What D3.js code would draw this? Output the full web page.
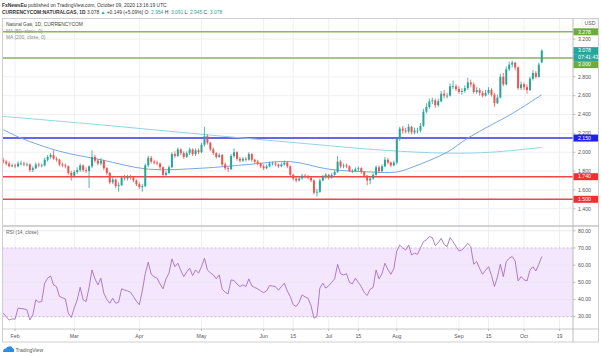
<!DOCTYPE html>
<html><head><meta charset="utf-8">
<script src="https://cdn.jsdelivr.net/npm/d3@7"></script>
<style>
html,body{margin:0;padding:0;background:#fff;}
svg{display:block;font-family:"Liberation Sans",Arial,sans-serif;}
</style></head>
<body><svg id="c" width="601" height="356"></svg>
<script>
// ---------------- DATA ----------------
const firstDay = "2020-01-28", axisEndDay = "2020-10-31";
const closedDays = ["2020-04-10"];
const opens = [
1.92,1.90,1.88,1.85,1.86,1.85,1.88,1.88,1.87,1.87,
1.81,1.83,1.87,1.86,1.86,1.92,1.95,1.97,1.93,1.92,
1.87,1.86,1.85,1.78,1.75,1.79,1.81,1.86,1.81,1.80,
1.85,1.95,1.91,1.88,1.91,1.83,1.78,1.68,1.71,1.64,
1.65,1.73,1.72,1.74,1.73,1.70,1.66,1.63,1.64,1.86,
1.94,1.90,1.89,1.88,1.84,1.76,1.78,1.84,1.98,1.96,
2.03,1.99,1.95,1.99,2.03,1.98,2.02,2.00,2.08,2.17,
2.10,2.03,1.99,1.95,1.97,1.87,1.83,1.82,1.96,2.00,
1.93,1.91,1.93,1.92,1.98,1.92,1.90,1.88,1.85,1.83,
1.85,1.88,1.88,1.87,1.85,1.87,1.89,1.85,1.76,1.72,
1.70,1.72,1.75,1.74,1.73,1.70,1.57,1.58,1.70,1.74,
1.76,1.73,1.76,1.79,1.90,1.85,1.86,1.85,1.80,1.80,
1.82,1.83,1.79,1.75,1.70,1.72,1.76,1.84,1.80,1.85,
1.92,1.89,1.86,1.89,2.14,2.25,2.23,2.22,2.27,2.21,
2.23,2.23,2.28,2.43,2.48,2.54,2.55,2.50,2.54,2.62,
2.60,2.60,2.70,2.70,2.67,2.64,2.65,2.68,2.74,2.72,
2.64,2.66,2.63,2.60,2.63,2.66,2.61,2.52,2.58,2.80,
2.72,2.88,2.93,2.95,2.90,2.68,2.72,2.69,2.66,2.78,
2.84,2.80,2.954];
const highs = [
1.94,1.92,1.90,1.88,1.88,1.90,1.91,1.90,1.89,1.88,
1.85,1.89,1.89,1.88,1.94,1.97,1.99,2.02,1.95,1.93,
1.89,1.88,1.86,1.80,1.81,1.84,1.88,1.87,1.84,1.86,
2.02,1.97,1.93,1.94,1.92,1.84,1.79,1.74,1.72,1.68,
1.75,1.76,1.76,1.76,1.74,1.71,1.68,1.66,1.88,1.96,
1.96,1.92,1.91,1.89,1.85,1.80,1.86,2.00,2.01,2.05,
2.04,2.01,2.01,2.05,2.04,2.04,2.04,2.10,2.27,2.19,
2.11,2.05,2.00,1.99,1.98,1.89,1.85,1.98,2.04,2.01,
1.95,1.95,1.95,2.00,1.99,1.93,1.92,1.89,1.87,1.87,
1.90,1.90,1.90,1.88,1.89,1.91,1.90,1.86,1.77,1.74,
1.74,1.77,1.77,1.76,1.74,1.71,1.61,1.72,1.76,1.78,
1.77,1.78,1.81,1.96,1.92,1.88,1.88,1.86,1.82,1.84,
1.85,1.84,1.80,1.76,1.74,1.78,1.86,1.86,1.87,1.95,
1.94,1.90,1.91,2.16,2.27,2.28,2.26,2.30,2.28,2.26,
2.26,2.31,2.46,2.52,2.57,2.58,2.57,2.57,2.65,2.66,
2.63,2.73,2.76,2.72,2.70,2.68,2.71,2.79,2.77,2.74,
2.69,2.68,2.65,2.66,2.69,2.68,2.63,2.61,2.83,2.84,
2.91,2.96,2.97,2.96,2.91,2.75,2.74,2.72,2.80,2.87,
2.86,2.95,3.091];
const lows = [
1.88,1.86,1.84,1.84,1.83,1.84,1.86,1.85,1.85,1.79,
1.79,1.82,1.84,1.84,1.85,1.90,1.93,1.92,1.90,1.85,
1.84,1.83,1.76,1.70,1.73,1.77,1.79,1.79,1.78,1.62,
1.83,1.89,1.86,1.86,1.81,1.76,1.66,1.66,1.62,1.58,
1.64,1.70,1.70,1.71,1.68,1.64,1.61,1.58,1.63,1.84,
1.88,1.87,1.86,1.82,1.73,1.74,1.77,1.83,1.94,1.95,
1.97,1.93,1.94,1.97,1.96,1.96,1.98,1.99,2.06,2.08,
2.01,1.97,1.93,1.94,1.85,1.81,1.79,1.81,1.94,1.91,
1.89,1.90,1.90,1.91,1.90,1.88,1.86,1.83,1.81,1.82,
1.84,1.86,1.85,1.83,1.84,1.86,1.83,1.74,1.70,1.68,
1.69,1.71,1.72,1.71,1.68,1.55,1.53,1.57,1.69,1.72,
1.71,1.72,1.75,1.78,1.83,1.83,1.83,1.79,1.78,1.79,
1.80,1.77,1.73,1.65,1.66,1.71,1.75,1.78,1.79,1.84,
1.87,1.84,1.85,1.87,2.12,2.20,2.20,2.20,2.19,2.19,
2.20,2.21,2.27,2.41,2.46,2.51,2.47,2.48,2.53,2.57,
2.57,2.59,2.67,2.65,2.62,2.61,2.63,2.66,2.69,2.62,
2.62,2.60,2.58,2.59,2.61,2.59,2.48,2.51,2.57,2.70,
2.71,2.86,2.90,2.87,2.66,2.66,2.66,2.62,2.65,2.76,
2.78,2.79,2.945];
const closes = [
1.90,1.88,1.85,1.86,1.85,1.88,1.88,1.87,1.87,1.81,
1.83,1.87,1.86,1.86,1.92,1.95,1.97,1.93,1.92,1.87,
1.86,1.85,1.78,1.75,1.79,1.81,1.86,1.81,1.80,1.85,
1.95,1.91,1.88,1.91,1.83,1.78,1.68,1.71,1.64,1.65,
1.73,1.72,1.74,1.73,1.70,1.66,1.63,1.64,1.86,1.94,
1.90,1.89,1.88,1.84,1.76,1.78,1.84,1.98,1.96,2.03,
1.99,1.95,1.99,2.03,1.98,2.02,2.00,2.08,2.17,2.10,
2.03,1.99,1.95,1.97,1.87,1.83,1.82,1.96,2.00,1.93,
1.91,1.93,1.92,1.98,1.92,1.90,1.88,1.85,1.83,1.85,
1.88,1.88,1.87,1.85,1.87,1.89,1.85,1.76,1.72,1.70,
1.72,1.75,1.74,1.73,1.70,1.57,1.58,1.70,1.74,1.76,
1.73,1.76,1.79,1.90,1.85,1.86,1.85,1.80,1.80,1.82,
1.83,1.79,1.75,1.70,1.72,1.76,1.84,1.80,1.85,1.92,
1.89,1.86,1.89,2.14,2.25,2.23,2.22,2.27,2.21,2.23,
2.23,2.28,2.43,2.48,2.54,2.55,2.50,2.54,2.62,2.60,
2.60,2.70,2.70,2.67,2.64,2.65,2.68,2.74,2.72,2.64,
2.66,2.63,2.60,2.63,2.66,2.61,2.52,2.58,2.80,2.72,
2.88,2.93,2.95,2.90,2.68,2.72,2.69,2.66,2.78,2.84,
2.80,2.929,3.078];
const rsiValues = [
32,30,28,28.7,28.5,34.9,34.7,34.5,34,28.1,
31,39.8,38.4,38.8,49.5,52.4,53.7,48.5,47.5,41.7,
41,40.3,32,29.5,35,39.8,47.1,39.8,38.8,47,
57.2,52,48.5,52.4,43.6,40,37.8,40.7,37.8,38.4,
46.2,45.5,45,44.2,41.7,39,36.9,45,55,61.7,
54.7,53.3,52.4,49,46.2,52,55.3,63.6,59.1,61.1,
57,53.3,56,58.2,53.9,57.2,55.3,59.1,64,57.2,
55.5,54.3,52,54.3,46,44.2,43.3,51.4,51,49,
47.5,48.5,47.5,52,47.9,47,46.2,45,44,45,
48.1,47.8,47.5,45.4,47.5,49.5,45,41.7,37,35.9,
38.4,42.7,41.5,40.7,36.5,29.1,30.1,46.6,49.5,46.6,
48,50,52,60.5,55,54.3,55,50,49.1,52.4,
50,47.5,44,42.3,46,47,57.2,52,55,61.1,
57.5,54.7,58,68.3,71.7,70,68.8,71.7,65.9,67,
66.3,70,73.7,74.7,76.6,76,71.4,73,75.6,72,
70.8,76,73.7,71,68.3,68.8,70.5,72.7,70.8,60.5,
62.1,58,54.7,57,59.1,54,47.5,53,60.5,53.3,
62,64,65,62.4,50.8,53.3,51.5,50.8,57,59.1,
56.6,60.5,65];
const ma50Dates  = ["2020-01-28","2020-02-05","2020-02-24","2020-03-13","2020-04-06","2020-05-01","2020-05-25","2020-06-12","2020-07-01","2020-07-21","2020-08-03","2020-08-11","2020-08-26","2020-09-04","2020-09-16","2020-09-25","2020-10-09"];
const ma50Values = [2.24,2.15,2.01,1.92,1.82,1.83,1.87,1.90,1.82,1.79,1.79,1.85,2.00,2.15,2.29,2.41,2.61];
const ma200Dates  = ["2020-01-28","2020-03-13","2020-05-01","2020-06-16","2020-07-28","2020-08-26","2020-09-16","2020-10-09"];
const ma200Values = [2.38,2.29,2.19,2.10,2.02,1.99,2.00,2.05];
const levelValues = [3.278, 3.000, 2.150, 1.740, 1.500];
const priceTicks = [1.4,1.6,1.8,2.0,2.2,2.4,2.6,2.8,3.0,3.2];
const rsiTicks = [30,40,50,60,70,80];
const timeTickDates  = ["2020-02-03","2020-03-02","2020-04-01","2020-05-01","2020-06-01","2020-06-15","2020-07-01","2020-07-15","2020-08-03","2020-09-01","2020-09-15","2020-10-01","2020-10-19"];
const timeTickLabels = ["Feb","Mar","Apr","May","Jun","15","Jul","15","Aug","Sep","15","Oct","19"];
const lastInfo = {o:"2.954", h:"3.091", l:"2.945", c:"3.078", chg:"+0.149 (+5.09%)", countdown:"07:41:43"};

// ---------------- LAYOUT ----------------
const svg = d3.select("#c");
const L = 2.5, R = 573, PT = 18.5, PB = 225.5, RT = 226.5, RB = 329, FB = 342;
const fmt = d3.utcFormat("%Y-%m-%d"), parse = d3.utcParse("%Y-%m-%d");
const days = d3.utcDays(parse(firstDay), parse(axisEndDay))
  .filter(d => d.getUTCDay() % 6 !== 0 && !closedDays.includes(fmt(d))).map(fmt);
const idx = new Map(days.map((d, i) => [d, i]));
const x = d3.scaleLinear().domain([-0.25, 192.55]).range([L, R]);
const y = d3.scaleLinear().domain([1.222, 3.419]).range([PB, PT]);
const yr = d3.scaleLinear().domain([22.8, 82.5]).range([RB, RT]);
const UP = "#26a69a", DN = "#ef5350", GRID = "#eef0f5", AX = "#555";
const FS = 5.2;

svg.append("rect").attr("width",601).attr("height",356).attr("fill","#fff");

// header
const h1 = svg.append("text").attr("x",2).attr("y",7).attr("font-size",4.9).attr("fill","#333");
h1.append("tspan").attr("font-weight","bold").text("FxNewsEu");
h1.append("tspan").text(" published on TradingView.com, October 09, 2020 13:16:19 UTC");
const h2 = svg.append("text").attr("x",2).attr("y",13.6).attr("font-size",4.9).attr("fill","#333");
h2.append("tspan").attr("font-weight","bold").text("CURRENCYCOM:NATURALGAS, 1D");
h2.append("tspan").text(" " + lastInfo.c + " ");
h2.append("tspan").attr("fill",UP).text("▲");
h2.append("tspan").text(" " + lastInfo.chg + " O: ");
h2.append("tspan").attr("fill",UP).text(lastInfo.o);
h2.append("tspan").text(" H: ");
h2.append("tspan").attr("fill",UP).text(lastInfo.h);
h2.append("tspan").text(" L: ");
h2.append("tspan").attr("fill",UP).text(lastInfo.l);
h2.append("tspan").text(" C: ");
h2.append("tspan").attr("fill",UP).text(lastInfo.c);

// clip paths
const defs = svg.append("defs");
defs.append("clipPath").attr("id","cp").append("rect").attr("x",L).attr("y",PT).attr("width",R-L).attr("height",PB-PT);
defs.append("clipPath").attr("id","cr").append("rect").attr("x",L).attr("y",RT).attr("width",R-L).attr("height",RB-RT);

// grids
const tickX = timeTickDates.map(d => x(idx.get(d)));
svg.append("g").selectAll("line").data(tickX).join("line")
  .attr("x1",d=>d).attr("x2",d=>d).attr("y1",PT).attr("y2",RB).attr("stroke",GRID).attr("stroke-width",1);
svg.append("g").selectAll("line").data(priceTicks).join("line")
  .attr("x1",L).attr("x2",R).attr("y1",d=>y(d)).attr("y2",d=>y(d)).attr("stroke",GRID);

// RSI band + grid
svg.append("rect").attr("x",L).attr("width",R-L).attr("y",yr(70)).attr("height",yr(30)-yr(70)).attr("fill","#f4e6fc");
svg.append("g").selectAll("line").data(rsiTicks.filter(t=>t!==70&&t!==30)).join("line")
  .attr("x1",L).attr("x2",R).attr("y1",d=>yr(d)).attr("y2",d=>yr(d)).attr("stroke","#ebe6f2");
svg.append("g").selectAll("line").data([70,30]).join("line")
  .attr("x1",L).attr("x2",R).attr("y1",d=>yr(d)).attr("y2",d=>yr(d))
  .attr("stroke","#b9aec6").attr("stroke-dasharray","2,2").attr("stroke-width",0.8);

// legend text
const lg = svg.append("g").attr("font-size",4.9);
lg.append("text").attr("x",6).attr("y",26).attr("fill","#444").text("Natural Gas, 1D, CURRENCYCOM");
lg.append("text").attr("x",6).attr("y",32.6).attr("fill","#888").text("MA (50, close, 0)");
lg.append("text").attr("x",6).attr("y",39).attr("fill","#888").text("MA (200, close, 0)");
svg.append("text").attr("x",6).attr("y",233.5).attr("font-size",4.9).attr("fill","#666").text("RSI (14, close)");

// price panel
const gp = svg.append("g").attr("clip-path","url(#cp)");
const levelStyle = [
  {stroke:"#86bb55", w:1.6, box:"#6cab3c"},
  {stroke:"#a9c484", w:2, box:"#6cab3c"},
  {stroke:"#3535d4", w:1.5, box:"#2020e6"},
  {stroke:"#f04646", w:1.5, box:"#f03030"},
  {stroke:"#f04646", w:1.5, box:"#f03030"}
];
gp.selectAll("line.lv").data(levelValues).join("line").attr("class","lv")
  .attr("x1",L).attr("x2",R).attr("y1",d=>y(d)).attr("y2",d=>y(d))
  .attr("stroke",(d,i)=>levelStyle[i].stroke).attr("stroke-width",(d,i)=>levelStyle[i].w);

const mkLine = (dates, vals) => d3.line().curve(d3.curveCatmullRom)
  .x((d,i)=>x(idx.get(dates[i]))).y((d,i)=>y(vals[i]))(vals);
gp.append("path").attr("d",mkLine(ma200Dates, ma200Values)).attr("fill","none").attr("stroke","#94d3e4").attr("stroke-width",1);
gp.append("path").attr("d",mkLine(ma50Dates, ma50Values)).attr("fill","none").attr("stroke","#77a8de").attr("stroke-width",1);

const bars = closes.map((c,i)=>({i, o:opens[i], h:highs[i], l:lows[i], c}));
const cg = gp.append("g");
cg.selectAll("line").data(bars).join("line")
  .attr("x1",d=>x(d.i)).attr("x2",d=>x(d.i)).attr("y1",d=>y(d.h)).attr("y2",d=>y(d.l))
  .attr("stroke",d=>d.c>=d.o?UP:DN).attr("stroke-width",0.8);
cg.selectAll("rect").data(bars).join("rect")
  .attr("x",d=>x(d.i)-1).attr("width",2)
  .attr("y",d=>y(Math.max(d.o,d.c)))
  .attr("height",d=>Math.max(0.8, Math.abs(y(d.o)-y(d.c))))
  .attr("fill",d=>d.c>=d.o?UP:DN);

// RSI line
svg.append("g").attr("clip-path","url(#cr)").append("path")
  .attr("d", d3.line().x((d,i)=>x(i)).y(d=>yr(d))(rsiValues))
  .attr("fill","none").attr("stroke","#a56fc4").attr("stroke-width",0.9);

// frame & separators
svg.append("rect").attr("x",L).attr("y",PT).attr("width",598.5-L).attr("height",FB-PT)
  .attr("fill","none").attr("stroke","#cfcfcf").attr("stroke-width",1);
svg.append("line").attr("x1",L).attr("x2",598.5).attr("y1",PB+0.5).attr("y2",PB+0.5).attr("stroke","#c4c4c4").attr("stroke-width",1.6);
svg.append("line").attr("x1",L).attr("x2",598.5).attr("y1",RB).attr("y2",RB).attr("stroke","#c8c8c8").attr("stroke-width",1);
svg.append("line").attr("x1",R).attr("x2",R).attr("y1",PT).attr("y2",FB).attr("stroke","#bdbdbd").attr("stroke-width",1);

// price axis labels
const ax = svg.append("g").attr("font-size",FS).attr("fill",AX);
ax.selectAll("text.pt").data(priceTicks.filter(t=>t!==3.0)).join("text").attr("class","pt")
  .attr("x",578).attr("y",d=>y(d)+1.8).text(d=>d.toFixed(3));
ax.selectAll("line.pt").data(priceTicks).join("line").attr("class","pt")
  .attr("x1",R).attr("x2",R+2.5).attr("y1",d=>y(d)).attr("y2",d=>y(d)).attr("stroke","#999").attr("stroke-width",0.6);
// USD
svg.append("rect").attr("x",582).attr("y",19.8).attr("width",15).attr("height",6.6).attr("fill","#fff").attr("stroke","#ddd").attr("stroke-width",0.5);
svg.append("text").attr("x",584.5).attr("y",24.9).attr("font-size",FS).attr("fill",AX).text("USD");

// RSI axis labels
ax.selectAll("text.rt").data(rsiTicks).join("text").attr("class","rt")
  .attr("x",578).attr("y",d=>yr(d)+1.8).text(d=>d.toFixed(2));
ax.selectAll("line.rt").data(rsiTicks).join("line").attr("class","rt")
  .attr("x1",R).attr("x2",R+2.5).attr("y1",d=>yr(d)).attr("y2",d=>yr(d)).attr("stroke","#999").attr("stroke-width",0.6);

// time axis
ax.selectAll("text.tt").data(timeTickLabels).join("text").attr("class","tt")
  .attr("x",(d,i)=>tickX[i]).attr("y",338).attr("text-anchor","middle").text(d=>d);
ax.selectAll("line.tt").data(tickX).join("line").attr("class","tt")
  .attr("x1",d=>d).attr("x2",d=>d).attr("y1",RB).attr("y2",RB+2).attr("stroke","#999").attr("stroke-width",0.6);

// right-side value boxes with simple collision push-down
const BH = 7;
const boxes = [
  {v:levelValues[0], t:levelValues[0].toFixed(3), fill:levelStyle[0].box},
  {v:closes[closes.length-1], t:closes[closes.length-1].toFixed(3), fill:UP},
  {v:closes[closes.length-1], t:lastInfo.countdown, fill:UP, sub:true},
  {v:levelValues[1], t:levelValues[1].toFixed(3), fill:levelStyle[1].box},
  {v:levelValues[2], t:levelValues[2].toFixed(3), fill:levelStyle[2].box},
  {v:levelValues[3], t:levelValues[3].toFixed(3), fill:levelStyle[3].box},
  {v:levelValues[4], t:levelValues[4].toFixed(3), fill:levelStyle[4].box}
];
let prevBottom = -1e9;
boxes.forEach(b => {
  let cy = y(b.v) + (b.sub ? BH : 0);
  if (cy - BH/2 < prevBottom) cy = prevBottom + BH/2;
  b.cy = cy; prevBottom = cy + BH/2;
});
const bg = svg.append("g");
bg.selectAll("rect").data(boxes).join("rect")
  .attr("x",R+0.5).attr("y",d=>d.cy-BH/2).attr("width",24.5).attr("height",BH).attr("fill",d=>d.fill);
bg.selectAll("text").data(boxes).join("text")
  .attr("x",578).attr("y",d=>d.cy+1.8).attr("font-size",FS).attr("fill","#fff").text(d=>d.t);

// TradingView logo
const logo = svg.append("g");
logo.append("path").attr("d","M3 352 Q3 348.5 6 348.5 Q7 346 9.5 346.5 Q11.5 345.5 12.5 348 Q14.5 348.5 14 352 Z").attr("fill","#2a8ee6");
logo.append("text").attr("x",15.5).attr("y",351.5).attr("font-size",5).attr("fill","#555").text("TradingView");
</script></body></html>
